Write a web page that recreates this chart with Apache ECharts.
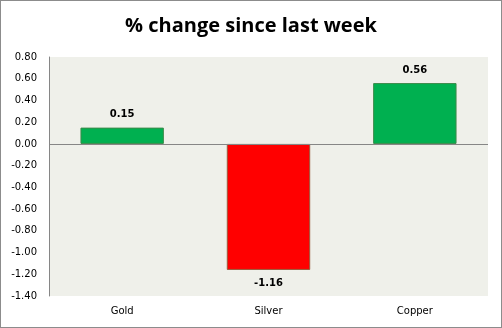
<!DOCTYPE html>
<html>
<head>
<meta charset="utf-8">
<script src="https://cdn.jsdelivr.net/npm/echarts@6/dist/echarts.min.js"></script>
<style>
  html, body { margin: 0; padding: 0; background: #fff; }
  #chart { width: 502px; height: 328px; box-sizing: border-box; border: 1px solid #8c8c8c; }
</style>
</head>
<body>
<div id="chart"></div>
<script>
// Weekly percentage change per metal
const categories = ['Gold', 'Silver', 'Copper'];
const changes = [0.15, -1.16, 0.56];
const barColors = ['#00b050', '#ff0000', '#00b050'];
const borderColors = ['#3b8a4a', '#9a5a3a', '#3b8a4a'];

const chart = echarts.init(document.getElementById('chart'));
chart.setOption({
  animation: false,
  title: {
    text: '% change since last week',
    left: 'center',
    top: 10,
    textStyle: { fontFamily: 'Open Sans', fontWeight: 'bold', fontSize: 20, color: '#000' }
  },
  grid: {
    left: 48, right: 13, top: 56, bottom: 31,
    show: true, backgroundColor: '#eff0ea', borderWidth: 0
  },
  xAxis: {
    type: 'category',
    data: categories,
    position: 'bottom',
    axisLine: { show: false },
    axisTick: { show: false },
    axisLabel: { fontFamily: 'DejaVu Sans', fontSize: 10, color: '#000', margin: 10 }
  },
  yAxis: {
    type: 'value',
    min: -1.4, max: 0.8, interval: 0.2,
    axisLine: { show: true, lineStyle: { color: '#868686' } },
    axisTick: { show: false },
    splitLine: { show: false },
    axisLabel: {
      fontFamily: 'DejaVu Sans', fontSize: 10, color: '#000', margin: 12,
      formatter: v => v.toFixed(2)
    }
  },
  series: [{
    type: 'bar',
    barWidth: '57%',
    data: changes.map((v, i) => ({
      value: v,
      itemStyle: { color: barColors[i], borderColor: borderColors[i], borderWidth: 1 }
    })),
    label: {
      show: true,
      position: 'outside',
      distance: 8,
      fontFamily: 'DejaVu Sans', fontWeight: 'bold', fontSize: 10, color: '#000',
      formatter: p => p.value.toFixed(2)
    },
    markLine: {
      silent: true,
      symbol: 'none',
      label: { show: false },
      lineStyle: { color: '#868686', type: 'solid', width: 1 },
      data: [{ yAxis: 0 }]
    }
  }]
});
</script>
</body>
</html>
